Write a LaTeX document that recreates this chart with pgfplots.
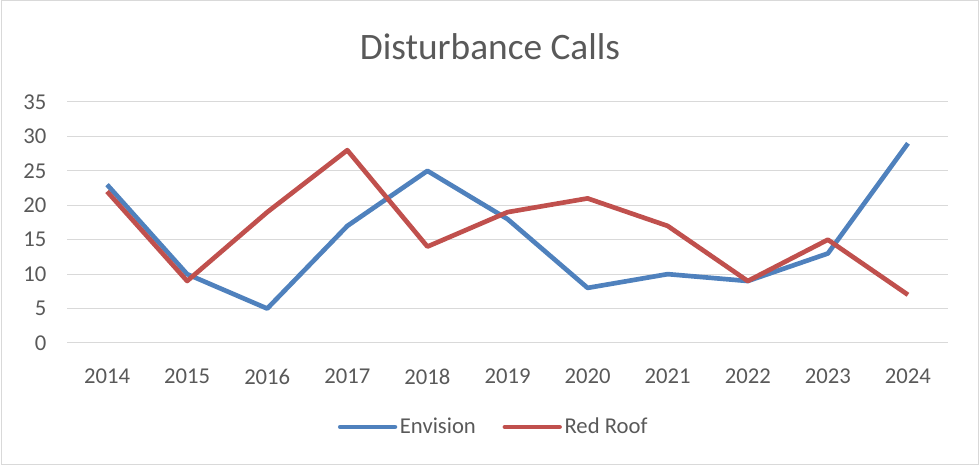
\documentclass[border=0pt]{standalone}
\usepackage{fontspec}
\setmainfont{Carlito}
\usepackage{pgfplots}
\pgfplotsset{compat=1.18}
\definecolor{envblue}{RGB}{79,129,189}
\definecolor{roofred}{RGB}{192,80,77}
\definecolor{txtgray}{RGB}{89,89,89}
\definecolor{gridgray}{RGB}{217,217,217}
\begin{document}
\begin{tikzpicture}[x=0.75pt,y=0.75pt]
% outer frame of the chart area
\draw[gridgray, line width=0.75pt] (1,1) rectangle (978,465);
\useasboundingbox (0,0) rectangle (979,466);
\node[font=\fontsize{28}{34}\selectfont, text=txtgray] at (490,419) {Disturbance Calls};
\begin{axis}[
    at={(50.25pt,92.25pt)}, anchor=south west,
    scale only axis,
    width=660.75pt, height=180.75pt,
    xmin=-0.5, xmax=10.5,
    ymin=0, ymax=35,
    xtick={0,...,10},
    xticklabels={2014,2015,2016,2017,2018,2019,2020,2021,2022,2023,2024},
    ytick={0,5,...,35},
    major tick length=0pt,
    axis line style={draw=none},
    ymajorgrids,
    grid style={gridgray, line width=0.75pt},
    /pgf/number format/assume math mode=true,
    tick label style={font=\fontsize{17}{20}\selectfont, text=txtgray},
    yticklabel style={xshift=-12pt},
    xticklabel style={yshift=-16pt},
    legend style={at={(0.4847,-0.3485)}, anchor=center, draw=none, fill=none,
        font=\fontsize{17}{20}\selectfont, text=txtgray, legend columns=2,
        /tikz/every even column/.append style={column sep=18pt}},
    legend image code/.code={\draw[#1, line cap=round] (0pt,0pt) -- (41pt,0pt);},
]
\addplot[envblue, line width=3.5pt, line join=round] coordinates {
    (0,23) (1,10) (2,5) (3,17) (4,25) (5,18) (6,8) (7,10) (8,9) (9,13) (10,29)
};
\addlegendentry{Envision}
\addplot[roofred, line width=3.5pt, line join=round] coordinates {
    (0,22) (1,9) (2,19) (3,28) (4,14) (5,19) (6,21) (7,17) (8,9) (9,15) (10,7)
};
\addlegendentry{Red Roof}
\end{axis}
\end{tikzpicture}
\end{document}
